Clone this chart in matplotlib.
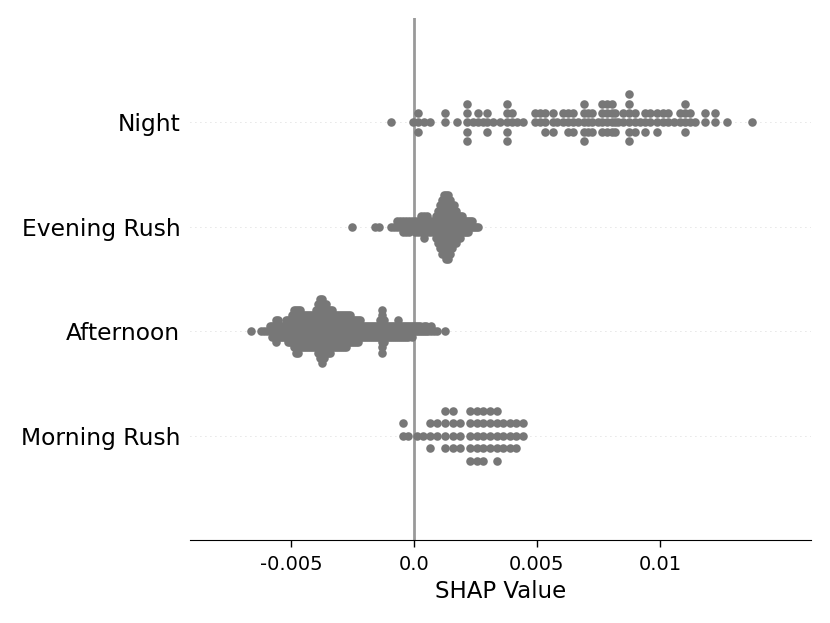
import numpy as np
import matplotlib
matplotlib.use("Agg")
import matplotlib.pyplot as plt

plt.rcParams['axes.unicode_minus'] = False

features = ['Morning Rush', 'Afternoon', 'Evening Rush', 'Night']

# shap values, with how many points sit on each value
morning_vals = [-0.00043, -0.00023, 0.00011, 0.00037, 0.00065, 0.00092, 0.00126, 0.00160, 0.00187,
                0.00228, 0.00255, 0.00282, 0.00309, 0.00336, 0.00363, 0.00390, 0.00417, 0.00444]
morning_n = [2, 1, 1, 1, 3, 2, 4, 4, 3, 5, 5, 5, 4, 5, 3, 3, 3, 2]

afternoon_vals = [-0.00660, -0.00622, -0.00610, -0.00598, -0.00585, -0.00577, -0.00569, -0.00561,
                  -0.00553, -0.00545, -0.00537, -0.00528, -0.00520, -0.00512, -0.00504, -0.00496,
                  -0.00488, -0.00480, -0.00472, -0.00463, -0.00455, -0.00447, -0.00439, -0.00431,
                  -0.00423, -0.00415, -0.00407, -0.00398, -0.00390, -0.00382, -0.00374, -0.00366,
                  -0.00358, -0.00350, -0.00341, -0.00333, -0.00325, -0.00317, -0.00309, -0.00301,
                  -0.00293, -0.00285, -0.00276, -0.00268, -0.00260, -0.00252, -0.00244, -0.00236,
                  -0.00228, -0.00220, -0.00211, -0.00203, -0.00195, -0.00187, -0.00179, -0.00171,
                  -0.00163, -0.00154, -0.00146, -0.00138, -0.00130, -0.00122, -0.00114, -0.00106,
                  -0.00098, -0.00089, -0.00081, -0.00073, -0.00065, -0.00057, -0.00049, -0.00041,
                  -0.00033, -0.00024, -0.00016, -0.00008, 0.00000, 0.00008, 0.00016, 0.00024,
                  0.00033, 0.00041, 0.00049, 0.00057, 0.00069, 0.00081, 0.00093, 0.00126]
afternoon_n = [1, 1, 1, 1, 2, 3, 3, 5, 4, 3, 3, 3, 4, 5, 5, 6, 8, 9, 9, 8, 7, 7, 7, 7, 7, 7, 7, 8,
               10, 12, 13, 11, 10, 9, 9, 8, 7, 7, 7, 7, 7, 7, 7, 6, 6, 5, 5, 5, 5, 4, 3, 3, 3, 3,
               3, 3, 3, 3, 3, 4, 9, 5, 3, 3, 3, 3, 3, 3, 4, 3, 3, 3, 3, 3, 2, 3, 2, 2, 2, 2, 1, 2,
               2, 1, 2, 1, 1, 1]

evening_vals = [-0.00253, -0.00159, -0.00142, -0.00093, -0.00081, -0.00069, -0.00057, -0.00045,
                -0.00033, -0.00020, -0.00008, 0.00004, 0.00016, 0.00028, 0.00041, 0.00053, 0.00065,
                0.00077, 0.00089, 0.00098, 0.00106, 0.00114, 0.00122, 0.00130, 0.00138, 0.00146,
                0.00154, 0.00163, 0.00171, 0.00179, 0.00187, 0.00195, 0.00203, 0.00211, 0.00220,
                0.00228, 0.00236, 0.00244, 0.00252, 0.00260]
evening_n = [1, 1, 1, 1, 1, 2, 2, 3, 3, 3, 2, 3, 3, 4, 5, 4, 3, 3, 5, 7, 9, 11, 12, 13, 13, 11,
             9, 8, 7, 5, 5, 4, 3, 3, 3, 2, 2, 1, 1, 1]

night_vals = [-0.00091, -0.00004, 0.00016, 0.00041, 0.00065, 0.00126, 0.00175, 0.00215, 0.00240,
              0.00260, 0.00280, 0.00297, 0.00321, 0.00350, 0.00378, 0.00398, 0.00419, 0.00443,
              0.00492, 0.00512, 0.00533, 0.00565, 0.00581, 0.00606, 0.00626, 0.00646, 0.00667,
              0.00691, 0.00707, 0.00724, 0.00748, 0.00764, 0.00785, 0.00805, 0.00817, 0.00829,
              0.00850, 0.00874, 0.00898, 0.00919, 0.00939, 0.00959, 0.00988, 0.01012, 0.01033,
              0.01057, 0.01081, 0.01102, 0.01122, 0.01142, 0.01183, 0.01224, 0.01272, 0.01374]
night_n = [1, 1, 3, 1, 1, 2, 1, 5, 1, 2, 1, 3, 1, 1, 5, 2, 1, 1, 2, 2, 3, 3, 1, 2, 3, 3, 1, 5, 3,
           3, 1, 4, 4, 4, 3, 1, 2, 6, 3, 1, 3, 2, 3, 2, 2, 1, 2, 4, 2, 1, 2, 2, 1, 1]

rows = [(morning_vals, morning_n), (afternoon_vals, afternoon_n),
        (evening_vals, evening_n), (night_vals, night_n)]

row_height = 0.4


def swarm(vals, counts):
	xs = []
	ys = []
	for v, c in zip(vals, counts):
		for layer in range(c):
			xs.append(v)
			ys.append(np.ceil(layer / 2) * ((layer % 2) * 2 - 1))
	xs = np.array(xs)
	ys = np.array(ys)
	ys *= 0.9 * (row_height / np.max(ys + 1))
	return xs, ys


fig = plt.figure(figsize=(8.3, 6.23), dpi=100)
ax = fig.add_axes([0.2289, 0.1332, 0.7477, 0.8379])

ax.axvline(x=0, color="#999999", lw=2, zorder=-1)
for pos in range(len(features)):
	ax.axhline(y=pos, color="#cccccc", lw=0.6, dashes=(1, 5), zorder=-1)
	xs, ys = swarm(*rows[pos])
	ax.scatter(xs, pos + ys, s=38, color="#777777", linewidth=0, zorder=3)

ax.set_xlim(-0.009098, 0.016122)
ax.set_ylim(-1, len(features))
ax.set_yticks(range(len(features)))
ax.set_yticklabels(features, fontsize=16.8)
ax.set_xticks([-0.005, 0.0, 0.005, 0.01])
ax.set_xticklabels(['-0.005', '0.0', '0.005', '0.01'], fontsize=14)
ax.set_xlabel('SHAP Value', fontsize=16.5, labelpad=4)
ax.tick_params(axis='y', length=0, pad=7)
ax.tick_params(axis='x', length=5, width=1, pad=6)
for side in ['top', 'right', 'left']:
	ax.spines[side].set_visible(False)

fig.savefig('out.png', dpi=100)
